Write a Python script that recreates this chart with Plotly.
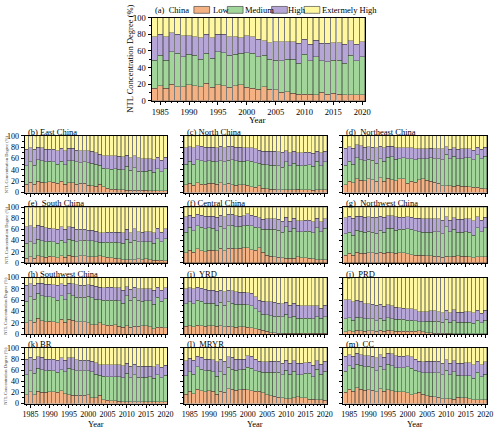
import plotly.graph_objects as go

years = list(range(1984, 2021))
categories = ["Low", "Medium", "High", "Extermely High"]
colors = ["#F4B183", "#A2D59A", "#B6A6D8", "#FFF8A0"]

# cumulative boundaries (%): Low, Low+Medium, Low+Medium+High
china_low = [15, 18, 15, 20, 17, 17, 19, 18, 17, 21, 16, 19, 18, 16, 18, 19, 16, 15, 14, 17, 14, 13, 10, 11, 9, 8, 8, 8, 7, 10, 8, 9, 8, 7, 7, 7, 7]
china_lm = [49, 55, 49, 59, 57, 53, 56, 55, 50, 57, 51, 59, 58, 55, 56, 57, 58, 57, 53, 55, 50, 49, 48, 50, 50, 45, 56, 48, 53, 48, 47, 49, 49, 45, 55, 48, 53]
china_lmh = [77, 80, 77, 82, 80, 78, 78, 77, 76, 80, 76, 80, 80, 77, 77, 76, 78, 77, 74, 72, 70, 71, 71, 71, 71, 69, 74, 68, 73, 69, 69, 70, 70, 68, 72, 68, 71]

east_low = [15, 18, 15, 20, 18, 17, 19, 18, 16, 20, 15, 17, 17, 15, 16, 16, 13, 12, 11, 15, 10, 8, 6, 6, 5, 5, 4, 4, 4, 4, 4, 4, 3, 3, 3, 3, 3]
east_lm = [47, 54, 48, 58, 56, 54, 55, 54, 50, 55, 49, 56, 56, 54, 53, 54, 53, 52, 50, 48, 43, 42, 41, 42, 41, 40, 46, 39, 44, 38, 38, 38, 39, 36, 42, 37, 42]
east_lmh = [76, 79, 76, 80, 79, 76, 76, 76, 74, 78, 74, 78, 78, 75, 74, 74, 74, 73, 70, 68, 65, 65, 65, 65, 64, 63, 66, 61, 65, 61, 60, 60, 60, 58, 62, 57, 62]

north_low = [14, 16, 13, 17, 15, 15, 16, 16, 15, 17, 14, 16, 14, 13, 14, 14, 13, 10, 9, 12, 8, 7, 6, 6, 5, 5, 5, 5, 5, 6, 5, 5, 5, 4, 5, 5, 5]
north_lm = [50, 55, 50, 58, 56, 54, 56, 55, 54, 56, 54, 57, 58, 56, 55, 55, 56, 55, 53, 52, 50, 49, 48, 48, 47, 45, 54, 47, 52, 48, 47, 48, 49, 46, 55, 47, 54]
north_lmh = [79, 81, 79, 83, 82, 80, 80, 80, 79, 82, 79, 82, 82, 80, 80, 79, 79, 79, 77, 75, 73, 73, 73, 73, 72, 71, 74, 70, 73, 70, 70, 71, 71, 69, 73, 70, 73]

northeast_low = [14, 20, 17, 24, 22, 21, 24, 23, 20, 26, 20, 25, 23, 21, 24, 24, 16, 20, 18, 23, 24, 22, 20, 18, 16, 12, 12, 12, 11, 13, 11, 11, 10, 9, 9, 8, 7]
northeast_lm = [48, 55, 50, 61, 58, 56, 59, 57, 52, 60, 55, 62, 63, 59, 60, 61, 60, 60, 58, 60, 60, 60, 61, 60, 60, 58, 68, 60, 64, 60, 60, 61, 61, 58, 67, 60, 64]
northeast_lmh = [78, 81, 78, 84, 83, 80, 81, 80, 79, 82, 79, 82, 82, 79, 79, 79, 79, 79, 77, 77, 77, 77, 78, 77, 77, 77, 81, 76, 79, 76, 77, 77, 77, 75, 80, 76, 80]

south_low = [8, 11, 8, 13, 11, 10, 12, 11, 9, 13, 10, 14, 12, 11, 13, 13, 11, 11, 11, 13, 11, 10, 9, 8, 7, 6, 6, 6, 6, 7, 6, 7, 6, 5, 5, 5, 4]
south_lm = [35, 38, 34, 42, 40, 38, 39, 38, 35, 41, 36, 42, 41, 38, 40, 41, 40, 40, 38, 37, 37, 37, 37, 37, 36, 35, 42, 37, 41, 38, 38, 38, 38, 35, 43, 38, 43]
south_lmh = [65, 67, 63, 68, 66, 63, 62, 61, 60, 65, 60, 65, 64, 60, 60, 60, 59, 59, 57, 54, 54, 55, 55, 55, 55, 54, 60, 54, 61, 56, 55, 56, 56, 54, 62, 55, 61]

central_low = [18, 23, 19, 25, 22, 20, 23, 23, 22, 26, 22, 26, 26, 25, 26, 27, 27, 24, 23, 27, 19, 14, 12, 11, 10, 9, 8, 8, 8, 11, 9, 9, 8, 7, 6, 6, 6]
central_lm = [55, 64, 58, 67, 64, 61, 63, 62, 58, 66, 61, 67, 68, 65, 66, 67, 68, 67, 64, 63, 60, 60, 60, 60, 59, 55, 65, 57, 62, 56, 56, 57, 57, 54, 63, 56, 62]
central_lmh = [83, 86, 82, 87, 86, 84, 84, 84, 82, 86, 83, 87, 87, 85, 84, 85, 88, 86, 84, 81, 78, 79, 79, 79, 78, 75, 82, 75, 80, 76, 76, 77, 77, 74, 80, 74, 79]

northwest_low = [14, 17, 14, 19, 17, 17, 18, 18, 17, 19, 17, 19, 18, 17, 18, 18, 16, 15, 14, 14, 14, 13, 13, 12, 12, 10, 12, 11, 12, 13, 12, 12, 11, 9, 11, 11, 11]
northwest_lm = [52, 55, 50, 59, 57, 55, 57, 55, 53, 59, 55, 62, 62, 59, 60, 60, 61, 60, 58, 56, 55, 55, 55, 56, 56, 52, 65, 56, 60, 55, 55, 56, 55, 50, 63, 56, 63]
northwest_lmh = [81, 84, 80, 84, 84, 82, 83, 82, 82, 84, 82, 85, 85, 83, 82, 82, 83, 82, 80, 80, 79, 79, 79, 79, 79, 77, 83, 77, 81, 78, 78, 79, 79, 76, 83, 77, 82]

southwest_low = [20, 24, 21, 28, 24, 22, 23, 22, 20, 26, 21, 26, 25, 22, 22, 22, 20, 17, 17, 20, 17, 16, 16, 17, 14, 12, 15, 12, 14, 14, 15, 15, 13, 10, 12, 12, 11]
southwest_lm = [58, 66, 62, 72, 68, 66, 66, 64, 60, 68, 61, 71, 68, 65, 65, 65, 67, 64, 62, 61, 60, 60, 60, 60, 59, 55, 68, 60, 65, 60, 58, 59, 59, 53, 65, 58, 63]
southwest_lmh = [86, 89, 86, 90, 90, 88, 88, 87, 86, 89, 86, 90, 89, 87, 86, 86, 87, 86, 85, 83, 82, 83, 83, 82, 82, 78, 84, 79, 83, 80, 80, 80, 80, 78, 83, 78, 82]

yrd_low = [14, 15, 13, 16, 15, 14, 15, 15, 14, 15, 13, 14, 13, 12, 13, 13, 12, 11, 10, 9, 7, 5, 3, 3, 2, 2, 2, 2, 2, 2, 2, 2, 2, 2, 2, 2, 2]
yrd_lm = [54, 57, 54, 60, 58, 55, 55, 55, 51, 56, 51, 57, 55, 53, 53, 53, 52, 50, 45, 40, 35, 34, 33, 32, 32, 31, 35, 29, 32, 28, 28, 28, 28, 27, 31, 28, 31]
yrd_lmh = [80, 82, 80, 83, 81, 79, 78, 78, 76, 78, 75, 78, 77, 75, 74, 74, 73, 72, 66, 60, 58, 57, 57, 56, 55, 54, 56, 51, 55, 51, 50, 50, 50, 50, 50, 46, 51]

prd_low = [4, 6, 4, 7, 6, 5, 6, 6, 5, 7, 5, 7, 6, 5, 5, 5, 5, 5, 5, 6, 4, 3, 3, 2, 2, 2, 2, 2, 1, 1, 1, 1, 1, 1, 1, 1, 1]
prd_lm = [27, 29, 25, 30, 29, 27, 27, 27, 24, 28, 25, 29, 27, 26, 26, 26, 25, 25, 24, 22, 22, 23, 23, 23, 23, 21, 26, 21, 24, 21, 21, 21, 21, 19, 25, 20, 25]
prd_lmh = [61, 61, 57, 60, 58, 54, 54, 53, 51, 53, 49, 52, 50, 48, 47, 46, 45, 45, 43, 40, 40, 40, 41, 41, 40, 38, 42, 38, 43, 39, 39, 40, 40, 38, 42, 37, 42]

br_low = [16, 21, 16, 22, 20, 20, 21, 21, 20, 23, 18, 16, 15, 15, 15, 15, 16, 10, 10, 15, 7, 6, 5, 5, 4, 3, 3, 3, 3, 3, 3, 3, 3, 3, 3, 3, 3]
br_lm = [52, 59, 54, 63, 61, 59, 60, 59, 56, 61, 57, 63, 61, 59, 59, 59, 59, 57, 53, 51, 49, 48, 48, 48, 48, 46, 54, 46, 52, 47, 47, 47, 48, 45, 52, 46, 51]
br_lmh = [80, 83, 80, 84, 83, 80, 80, 80, 78, 82, 78, 82, 82, 79, 78, 78, 78, 76, 73, 70, 70, 70, 70, 70, 70, 68, 72, 67, 71, 67, 67, 67, 67, 66, 70, 65, 69]

mryr_low = [17, 22, 18, 26, 23, 21, 23, 22, 17, 22, 20, 27, 26, 24, 25, 26, 25, 23, 22, 22, 19, 16, 14, 13, 11, 10, 9, 9, 10, 12, 10, 10, 8, 8, 7, 7, 6]
mryr_lm = [50, 57, 53, 66, 62, 59, 60, 57, 49, 57, 53, 65, 62, 60, 61, 62, 65, 63, 59, 58, 56, 56, 56, 56, 56, 52, 60, 53, 58, 52, 52, 54, 54, 48, 62, 53, 58]
mryr_lmh = [77, 81, 78, 85, 83, 80, 80, 79, 75, 80, 76, 84, 83, 80, 80, 80, 86, 85, 80, 76, 75, 75, 76, 76, 76, 72, 78, 72, 77, 72, 72, 73, 74, 69, 77, 71, 76]

cc_low = [20, 26, 22, 28, 26, 24, 25, 24, 21, 27, 22, 25, 23, 21, 21, 21, 19, 16, 18, 20, 17, 14, 13, 12, 11, 9, 9, 9, 8, 11, 10, 10, 9, 7, 7, 7, 7]
cc_lm = [58, 68, 63, 71, 69, 66, 67, 65, 59, 67, 61, 71, 68, 64, 64, 64, 66, 63, 60, 57, 55, 55, 55, 55, 55, 52, 60, 52, 57, 51, 50, 50, 50, 45, 56, 48, 53]
cc_lmh = [85, 88, 85, 90, 88, 86, 86, 85, 82, 88, 83, 90, 89, 86, 85, 85, 86, 84, 80, 76, 75, 76, 76, 76, 76, 72, 79, 72, 77, 72, 72, 73, 73, 70, 76, 70, 75]

panels = [
    ("(a)  China", china_low, china_lm, china_lmh),
    ("(b) East China", east_low, east_lm, east_lmh),
    ("(c) North China", north_low, north_lm, north_lmh),
    ("(d)  Northeast China", northeast_low, northeast_lm, northeast_lmh),
    ("(e)  South China", south_low, south_lm, south_lmh),
    ("(f) Central China", central_low, central_lm, central_lmh),
    ("(g)  Northwest China", northwest_low, northwest_lm, northwest_lmh),
    ("(h) Southwest China", southwest_low, southwest_lm, southwest_lmh),
    ("(i)  YRD", yrd_low, yrd_lm, yrd_lmh),
    ("(j)  PRD", prd_low, prd_lm, prd_lmh),
    ("(k) BR", br_low, br_lm, br_lmh),
    ("(l)  MRYR", mryr_low, mryr_lm, mryr_lmh),
    ("(m)  CC", cc_low, cc_lm, cc_lmh),
]

W, H = 500, 432
FONT = "Liberation Serif"

# pixel boxes (left, right, top, bottom)
boxes = [(152, 369, 13, 98)]
cols = [(23, 168), (185, 330), (347, 493)]
rows = [(134, 192), (207, 264), (279, 337), (351, 408)]
for r in rows:
    for c in cols:
        boxes.append((c[0], c[1], r[0], r[1]))

fig = go.Figure()
layout = dict(
    width=W, height=H, margin=dict(l=0, r=0, t=0, b=0, pad=0),
    paper_bgcolor="white", plot_bgcolor="white",
    barmode="stack", bargap=0.1, showlegend=False,
    font=dict(family=FONT, color="black", size=8),
)
annotations = []
shapes = []

for i, (title, low, lm, lmh) in enumerate(panels):
    ax = "" if i == 0 else str(i + 1)
    segs = [low,
            [b - a for a, b in zip(low, lm)],
            [b - a for a, b in zip(lm, lmh)],
            [100 - b for b in lmh]]
    for cat, seg, col in zip(categories, segs, colors):
        fig.add_trace(go.Bar(
            x=years, y=seg, name=cat,
            marker=dict(color=col, line=dict(color="#333333", width=0.4)),
            xaxis="x" + ax, yaxis="y" + ax, showlegend=False,
        ))
    l, r, t, b = boxes[i]
    small = i > 0
    show_x = (i == 0) or (i >= 10)
    show_y = (i == 0) or (i in (1, 4, 7, 10))
    tfs = 8.5 if not small else 8
    layout["xaxis" + ax] = dict(
        domain=[l / W, r / W], anchor="y" + ax, range=[1983.5, 2020.5],
        tick0=1985, dtick=5, ticks="outside", ticklen=3, tickcolor="black",
        minor=dict(dtick=1, tick0=1984, ticks="outside", ticklen=1.5, tickcolor="black"),
        showticklabels=show_x, tickfont=dict(size=tfs, family=FONT),
        showline=True, mirror=True, linecolor="black", linewidth=1,
        showgrid=False, zeroline=False, fixedrange=True,
    )
    layout["yaxis" + ax] = dict(
        domain=[1 - b / H, 1 - t / H], anchor="x" + ax, range=[0, 100],
        tick0=0, dtick=20, ticks="outside", ticklen=3, tickcolor="black",
        minor=dict(dtick=10, ticks="outside", ticklen=1.5, tickcolor="black"),
        showticklabels=show_y, tickfont=dict(size=tfs, family=FONT),
        showline=True, mirror=True, linecolor="black", linewidth=1,
        showgrid=False, zeroline=False, fixedrange=True,
    )
    if small:
        annotations.append(dict(
            text=title, x=(l + 1) / W, y=1 - (t - 4) / H, xref="paper", yref="paper",
            xanchor="left", yanchor="middle", showarrow=False,
            font=dict(size=8.5, family=FONT),
        ))
    if small and show_y:
        annotations.append(dict(
            text="NTL Concentration Degree (%)", x=4 / W, y=1 - (t + b) / 2 / H,
            xref="paper", yref="paper", textangle=-90, showarrow=False,
            xanchor="center", yanchor="middle", font=dict(size=4.5, family=FONT, color="#444"),
        ))
    if small and show_x:
        annotations.append(dict(
            text="Year", x=(l + r) / 2 / W, y=1 - 428.5 / H, xref="paper", yref="paper",
            showarrow=False, xanchor="center", yanchor="middle", borderpad=0,
            font=dict(size=8.5, family=FONT),
        ))

# top panel title and axis titles
annotations.append(dict(
    text="(a)  China", x=153 / W, y=1 - 5 / H, xref="paper", yref="paper",
    xanchor="left", yanchor="middle", showarrow=False, font=dict(size=8.5, family=FONT),
))
annotations.append(dict(
    text="NTL Concentration Degree (%)", x=130 / W, y=1 - 55 / H, xref="paper", yref="paper",
    textangle=-90, showarrow=False, xanchor="center", yanchor="middle",
    font=dict(size=8.5, family=FONT),
))
annotations.append(dict(
    text="Year", x=260 / W, y=1 - 118 / H, xref="paper", yref="paper",
    showarrow=False, xanchor="center", yanchor="middle", font=dict(size=9, family=FONT),
))

# manual legend for panel (a)
legend_pos = [(195, 212), (229, 245), (274, 289), (307, 323)]
for cat, col, (sx, tx) in zip(categories, colors, legend_pos):
    shapes.append(dict(
        type="rect", xref="paper", yref="paper",
        x0=sx / W, x1=(sx + 16) / W, y0=1 - 8.5 / H, y1=1 - 1.5 / H,
        fillcolor=col, line=dict(color="#333333", width=0.6),
    ))
    annotations.append(dict(
        text=cat, x=tx / W, y=1 - 5 / H, xref="paper", yref="paper",
        showarrow=False, xanchor="left", yanchor="middle",
        font=dict(size=8.5, family=FONT),
    ))

layout["annotations"] = annotations
layout["shapes"] = shapes
fig.update_layout(**layout)
fig.write_html(
    "out.html",
    config={"displayModeBar": False},
    post_script="document.body.style.margin='0';document.body.style.overflow='hidden';",
)
